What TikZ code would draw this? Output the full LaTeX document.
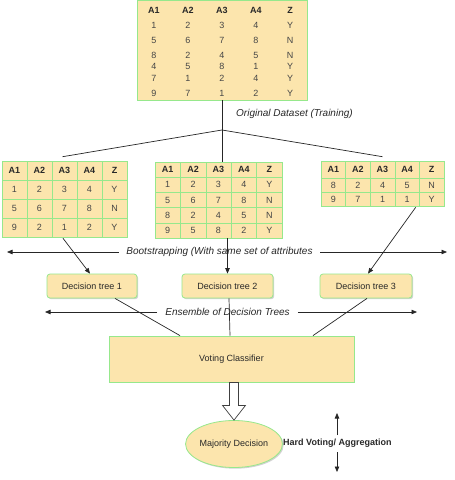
\documentclass[tikz,border=0pt]{standalone}
\usepackage{fontspec}
\setmainfont{Liberation Sans}
\usetikzlibrary{arrows.meta,shadows,calc,shapes.geometric}
\definecolor{cellfill}{RGB}{252,229,173}
\definecolor{cellline}{RGB}{150,232,140}
\definecolor{txt}{RGB}{70,70,70}
\definecolor{dark}{RGB}{40,40,40}
\tikzset{
  shad/.style={drop shadow={shadow xshift=1.2pt,shadow yshift=-1.2pt,opacity=0.35}},
  cell/.style={draw=cellline, line width=0.6pt, fill=cellfill, inner sep=0pt, text=txt,
    font=\fontsize{9}{10}\selectfont, shad},
  ttext/.style={inner sep=0pt, text=txt, font=\fontsize{9}{10}\selectfont},
  topbg/.style={fill=cellfill, draw=cellline, line width=0.6pt, inner sep=0pt, shad},
  box/.style={draw=cellline, line width=0.8pt, fill=cellfill, inner sep=0pt, text=dark,
    font=\fontsize{9}{10}\selectfont, shad},
  conn/.style={draw=black!85, line width=0.7pt},
  arr/.style={conn, -{Triangle[length=5.5pt,width=4.5pt]}},
  lbl/.style={inner sep=0pt, text=dark, font=\fontsize{10}{11}\selectfont\itshape},
}
\begin{document}
\begin{tikzpicture}[x=1pt,y=-1pt]
\useasboundingbox (0,0) rectangle (455,480);
\fill[white] (0,0) rectangle (455,480);

% ---- original dataset (top table)
\node[topbg, minimum width=170pt, minimum height=100pt] (T) at (222,50) {};
\foreach \row/\yy [count=\i from 0] in {{A1,A2,A3,A4,Z}/10,{1,2,3,4,Y}/25,{5,6,7,8,N}/40,{8,2,4,5,N}/55,{4,5,8,1,Y}/66,{7,1,2,4,Y}/78,{9,7,1,2,Y}/93}{
  \foreach \v [count=\j from 0] in \row {
    \node[ttext] (T-\i-\j) at ({154+34*\j},\yy) {\ifnum\i=0 \bfseries\color{dark}\fi\v};
  }
}
\node[lbl, anchor=west] (OD) at (236,114) {Original Dataset (Training)};

% ---- left bootstrap table
\foreach \row [count=\i from 0] in {{A1,A2,A3,A4,Z},{1,2,3,4,Y},{5,6,7,8,N},{9,2,1,2,Y}}{
  \foreach \v [count=\j from 0] in \row {
    \node[cell, minimum width=25pt, minimum height=19pt] (L-\i-\j) at ({14.5+25*\j},{170.5+19*\i}) {\ifnum\i=0 \bfseries\color{dark}\fi\v};
  }
}
% ---- middle bootstrap table
\foreach \row [count=\i from 0] in {{A1,A2,A3,A4,Z},{1,2,3,4,Y},{5,6,7,8,N},{8,2,4,5,N},{9,5,8,2,Y}}{
  \foreach \v [count=\j from 0] in \row {
    \node[cell, minimum width=25.4pt, minimum height=15.2pt] (M-\i-\j) at ({167.7+25.4*\j},{169.6+15.2*\i}) {\ifnum\i=0 \bfseries\color{dark}\fi\v};
  }
}
% ---- right bootstrap table
\foreach \row/\yy/\hh [count=\i from 0] in {{A1,A2,A3,A4,Z}/169.5/17,{8,2,4,5,N}/185/14,{9,7,1,1,Y}/199/14}{
  \foreach \v [count=\j from 0] in \row {
    \node[cell, minimum width=24.6pt, minimum height=\hh pt] (R-\i-\j) at ({333.3+24.6*\j},\yy) {\ifnum\i=0 \bfseries\color{dark}\fi\v};
  }
}

% ---- fan-out from original dataset
\coordinate (J) at (222,130);
\draw[conn] (T.south) -- (J);
\draw[conn] (J) -- ($(L-0-2.north)+(-2,-4)$);
\draw[conn] (J) -- (J |- M-0-2.north);
\draw[conn] (J) -- ($(R-0-2.north)+(0,-4)$);

% ---- decision trees
\node[box, rounded corners=3pt, minimum width=90pt, minimum height=24pt] (DT1) at (92,286) {Decision tree 1};
\node[box, rounded corners=3pt, minimum width=91pt, minimum height=24pt] (DT2) at (227.5,286) {Decision tree 2};
\node[box, rounded corners=3pt, minimum width=92pt, minimum height=24pt] (DT3) at (366,286) {Decision tree 3};

\draw[arr] ($(L-3-2.south)+(-1.5,1)$) -- ($(DT1.north)+(-2,0)$);
\draw[arr] (DT2.north |- M-4-2.south) -- (DT2.north);
\draw[arr] ($(R-2-3.south east)+(-4,1)$) -- ($(DT3.north)+(2,0)$);

% ---- bootstrapping label with arrows
\node[lbl, inner xsep=7.5pt] (BS) at (219.5,252) {Bootstrapping (With same set of attributes};
\coordinate (BSl) at (7,252);
\coordinate (BSr) at (447,252);
\draw[arr] (BS.west) -- (BSl);
\draw[arr] (BS.east) -- (BSr);

% ---- ensemble label with arrows
\node[lbl, inner xsep=8pt] (EN) at (227.5,312) {Ensemble of Decision Trees};
\coordinate (ENl) at (45,312);
\coordinate (ENr) at (417,312);
\draw[arr] (EN.west) -- (ENl);
\draw[arr] (EN.east) -- (ENr);

% ---- voting classifier
\node[box, minimum width=245pt, minimum height=46pt] (VC) at (231.5,359) {Voting Classifier};
\draw[conn] ($(DT1.south)+(23,0)$) -- ($(VC.north)+(-51.5,0)$);
\draw[conn] ($(DT2.south)+(1.5,0)$) -- ($(VC.north)+(-1.5,0)$);
\draw[conn] ($(DT3.south)+(1,0)$) -- ($(VC.north)+(81.5,0)$);

% ---- majority decision
\node[box, ellipse, minimum width=92pt, minimum height=47pt] (MD) at (234,444) {Majority Decision};
\coordinate (HA) at (MD.north |- VC.south);
\draw[draw=black!75, fill=white, line width=0.7pt, line join=miter]
  ($(HA)+(-4.5,0)$) -- ($(HA)+(4.5,0)$) -- ($(HA)+(4.5,23)$) -- ($(HA)+(11.5,23)$)
  -- (MD.north) -- ($(HA)+(-11.5,23)$) -- ($(HA)+(-4.5,23)$) -- cycle;

% ---- hard voting
\node[inner sep=0pt, anchor=west, text=dark, font=\fontsize{9}{10}\selectfont\bfseries] (HV) at (283,443) {Hard Voting/ Aggregation};
\coordinate (HVu1) at (337,435);
\coordinate (HVu2) at (337,413);
\coordinate (HVd1) at (337,452);
\coordinate (HVd2) at (337,472);
\draw[arr] (HVu1) -- (HVu2);
\draw[arr] (HVd1) -- (HVd2);
\end{tikzpicture}
\end{document}
